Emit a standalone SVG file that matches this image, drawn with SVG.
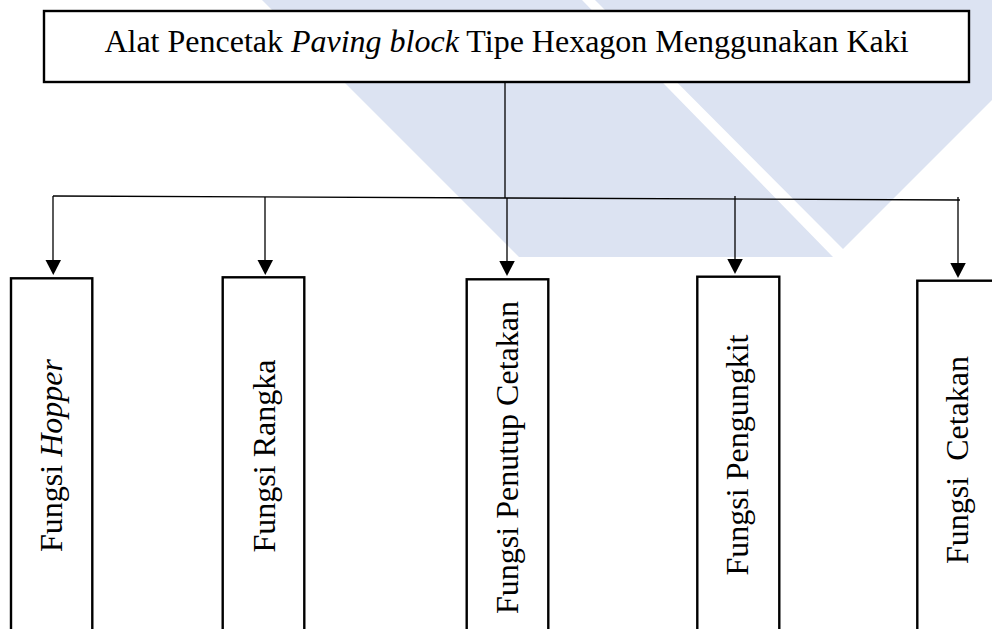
<svg xmlns="http://www.w3.org/2000/svg" width="992" height="629" viewBox="0 0 992 629">
  <defs>
    <style>
      .wm { fill: #dce3f2; }
      .box { fill: #ffffff; stroke: #000000; stroke-width: 2.4; }
      .wire { fill: none; stroke: #000000; stroke-width: 1.3; }
      .head { fill: #000000; }
      .lbl { font-family: "Liberation Serif", "Times New Roman", serif; font-size: 32px; fill: #000000; }
      .it { font-style: italic; }
    </style>
  </defs>

  <rect width="992" height="629" fill="#ffffff"/>

  <!-- background emblem: two slanted bands -->
  <g id="emblem">
    <polygon class="wm" points="262,0 582,0 833,257 519,257"/>
    <polygon class="wm" points="595,0 1092,0 843,249"/>
  </g>

  <!-- root node -->
  <g id="root">
    <rect class="box" x="44" y="11" width="925" height="71"/>
    <text class="lbl" x="506.5" y="52" text-anchor="middle">Alat Pencetak <tspan class="it">Paving block</tspan> Tipe Hexagon Menggunakan Kaki</text>
  </g>

  <!-- connectors -->
  <g id="connectors">
    <path class="wire" d="M505,82 L505,198"/>
    <path class="wire" d="M53,196 L505,198 L960,200"/>
    <path class="wire" d="M53,196 L53,260"/>
    <path class="wire" d="M265,197 L265,260"/>
    <path class="wire" d="M507,198 L507,261"/>
    <path class="wire" d="M735,196 L735,259"/>
    <path class="wire" d="M958,197 L958,263"/>
    <polygon class="head" points="45.5,260 61,260 53.3,275"/>
    <polygon class="head" points="257.5,260 273,260 265.3,275"/>
    <polygon class="head" points="499.3,261 514.8,261 507,276"/>
    <polygon class="head" points="727.3,259 742.8,259 735,274"/>
    <polygon class="head" points="950.3,263 965.8,263 958,278"/>
  </g>

  <!-- child nodes -->
  <g id="hopper">
    <rect class="box" x="11" y="278.3" width="81.3" height="370"/>
    <text class="lbl" transform="translate(62,455.5) rotate(-90)" text-anchor="middle">Fungsi <tspan class="it">Hopper</tspan></text>
  </g>
  <g id="rangka">
    <rect class="box" x="222.7" y="277.3" width="81.6" height="370"/>
    <text class="lbl" transform="translate(275,456) rotate(-90)" text-anchor="middle">Fungsi Rangka</text>
  </g>
  <g id="penutup">
    <rect class="box" x="466.7" y="279.3" width="81.6" height="370"/>
    <text class="lbl" transform="translate(518,457.5) rotate(-90)" text-anchor="middle">Fungsi Penutup Cetakan</text>
  </g>
  <g id="pengungkit">
    <rect class="box" x="697.3" y="276.7" width="82" height="370"/>
    <text class="lbl" transform="translate(748,455) rotate(-90)" text-anchor="middle">Fungsi Pengungkit</text>
  </g>
  <g id="cetakan">
    <rect class="box" x="917.3" y="280.7" width="100" height="370"/>
    <text class="lbl" transform="translate(968,460) rotate(-90)" text-anchor="middle" xml:space="preserve">Fungsi  Cetakan</text>
  </g>
</svg>
